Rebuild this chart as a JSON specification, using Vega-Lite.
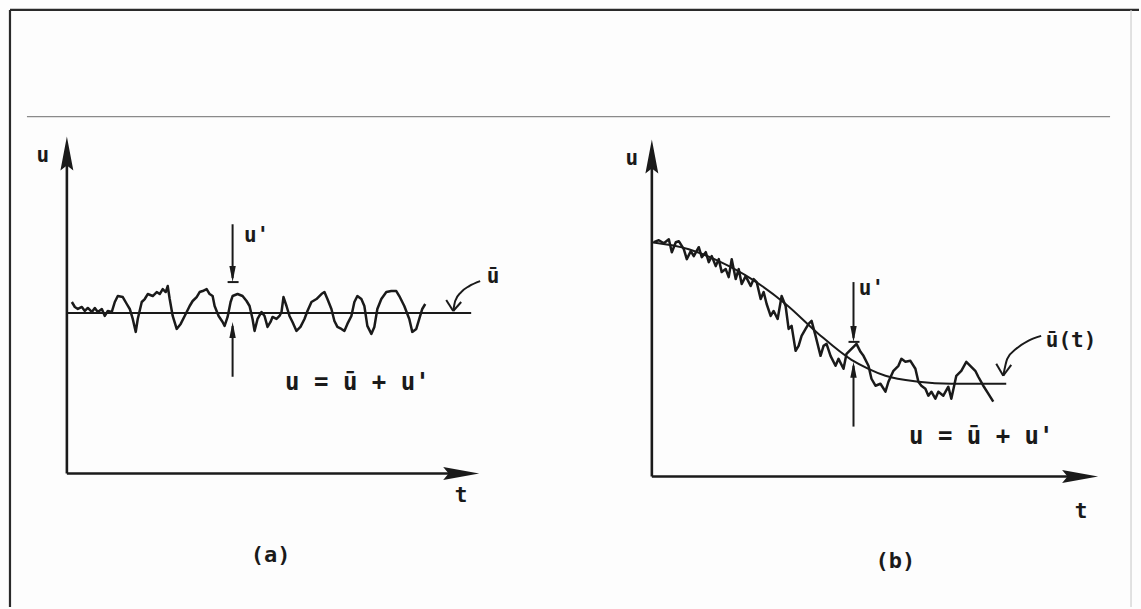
{
  "$schema": "https://vega.github.io/schema/vega-lite/v6.json",
  "autosize": {"type": "fit", "contains": "padding"},
  "width": 1141,
  "height": 609,
  "padding": 0,
  "background": "#fdfdfd",
  "config": {"view": {"stroke": null}},
  "datasets": {
    "frame": [
      {"x": 10, "u": 0, "x2": 10, "u2": 599},
      {"x": 10, "u": 599, "x2": 1141, "u2": 599}
    ],
    "sep": [
      {"x": 27, "u": 492, "x2": 1112, "u2": 492}
    ],
    "edge": [
      {"x": 1133, "u": 0, "x2": 1133, "u2": 599}
    ],
    "axes": [
      {"x": 67, "u": 134, "x2": 67, "u2": 458},
      {"x": 67, "u": 134, "x2": 464, "u2": 134},
      {"x": 653, "u": 131, "x2": 653, "u2": 455},
      {"x": 653, "u": 131, "x2": 1084, "u2": 131}
    ],
    "thin": [
      {"x": 67, "u": 295, "x2": 472, "u2": 295},
      {"x": 233, "u": 384, "x2": 233, "u2": 330},
      {"x": 228, "u": 326, "x2": 239, "u2": 326},
      {"x": 233, "u": 231, "x2": 233, "u2": 282},
      {"x": 855, "u": 326, "x2": 855, "u2": 270},
      {"x": 850, "u": 266, "x2": 861, "u2": 266},
      {"x": 855, "u": 181, "x2": 855, "u2": 242},
      {"x": 454, "u": 297, "x2": 447, "u2": 308},
      {"x": 454, "u": 297, "x2": 462, "u2": 306},
      {"x": 1005, "u": 232, "x2": 998, "u2": 244},
      {"x": 1005, "u": 232, "x2": 1013, "u2": 243}
    ],
    "curves": [
      {"id": "pa", "x": 481, "u": 327}, {"id": "pa", "x": 470, "u": 322}, {"id": "pa", "x": 462, "u": 316}, {"id": "pa", "x": 456, "u": 307}, {"id": "pa", "x": 454, "u": 297},
      {"id": "pb", "x": 1043, "u": 272}, {"id": "pb", "x": 1030, "u": 267}, {"id": "pb", "x": 1018, "u": 259}, {"id": "pb", "x": 1009, "u": 249}, {"id": "pb", "x": 1005, "u": 232},
      {"id": "mb", "x": 653, "u": 366}, {"id": "mb", "x": 690, "u": 359}, {"id": "mb", "x": 720, "u": 347}, {"id": "mb", "x": 753, "u": 329}, {"id": "mb", "x": 787, "u": 304}, {"id": "mb", "x": 820, "u": 274}, {"id": "mb", "x": 853, "u": 248}, {"id": "mb", "x": 870, "u": 239}, {"id": "mb", "x": 887, "u": 232}, {"id": "mb", "x": 920, "u": 226}, {"id": "mb", "x": 953, "u": 224}, {"id": "mb", "x": 1008, "u": 224}
    ],
    "signals": [
      {"id": "a", "x": 72, "u": 306}, {"id": "a", "x": 75, "u": 301}, {"id": "a", "x": 78, "u": 299}, {"id": "a", "x": 82, "u": 301}, {"id": "a", "x": 85, "u": 297}, {"id": "a", "x": 88, "u": 300}, {"id": "a", "x": 92, "u": 296}, {"id": "a", "x": 95, "u": 300}, {"id": "a", "x": 98, "u": 296}, {"id": "a", "x": 102, "u": 299}, {"id": "a", "x": 105, "u": 292}, {"id": "a", "x": 108, "u": 297}, {"id": "a", "x": 112, "u": 296}, {"id": "a", "x": 115, "u": 306}, {"id": "a", "x": 118, "u": 312}, {"id": "a", "x": 123, "u": 311}, {"id": "a", "x": 127, "u": 304}, {"id": "a", "x": 130, "u": 299}, {"id": "a", "x": 133, "u": 289}, {"id": "a", "x": 136, "u": 276}, {"id": "a", "x": 138, "u": 289}, {"id": "a", "x": 142, "u": 306}, {"id": "a", "x": 145, "u": 309}, {"id": "a", "x": 148, "u": 314}, {"id": "a", "x": 153, "u": 312}, {"id": "a", "x": 157, "u": 316}, {"id": "a", "x": 160, "u": 314}, {"id": "a", "x": 163, "u": 319}, {"id": "a", "x": 166, "u": 316}, {"id": "a", "x": 168, "u": 322}, {"id": "a", "x": 170, "u": 309}, {"id": "a", "x": 173, "u": 292}, {"id": "a", "x": 177, "u": 279}, {"id": "a", "x": 181, "u": 284}, {"id": "a", "x": 185, "u": 292}, {"id": "a", "x": 190, "u": 302}, {"id": "a", "x": 193, "u": 307}, {"id": "a", "x": 197, "u": 311}, {"id": "a", "x": 200, "u": 316}, {"id": "a", "x": 203, "u": 317}, {"id": "a", "x": 207, "u": 319}, {"id": "a", "x": 210, "u": 314}, {"id": "a", "x": 213, "u": 312}, {"id": "a", "x": 215, "u": 302}, {"id": "a", "x": 219, "u": 292}, {"id": "a", "x": 223, "u": 286}, {"id": "a", "x": 225, "u": 282}, {"id": "a", "x": 228, "u": 291}, {"id": "a", "x": 231, "u": 306}, {"id": "a", "x": 233, "u": 312}, {"id": "a", "x": 238, "u": 314}, {"id": "a", "x": 243, "u": 312}, {"id": "a", "x": 247, "u": 307}, {"id": "a", "x": 250, "u": 302}, {"id": "a", "x": 253, "u": 289}, {"id": "a", "x": 255, "u": 277}, {"id": "a", "x": 258, "u": 289}, {"id": "a", "x": 262, "u": 296}, {"id": "a", "x": 265, "u": 292}, {"id": "a", "x": 268, "u": 281}, {"id": "a", "x": 271, "u": 286}, {"id": "a", "x": 273, "u": 291}, {"id": "a", "x": 277, "u": 289}, {"id": "a", "x": 280, "u": 292}, {"id": "a", "x": 282, "u": 296}, {"id": "a", "x": 284, "u": 311}, {"id": "a", "x": 287, "u": 302}, {"id": "a", "x": 290, "u": 292}, {"id": "a", "x": 293, "u": 286}, {"id": "a", "x": 297, "u": 277}, {"id": "a", "x": 301, "u": 281}, {"id": "a", "x": 305, "u": 289}, {"id": "a", "x": 308, "u": 297}, {"id": "a", "x": 312, "u": 306}, {"id": "a", "x": 317, "u": 309}, {"id": "a", "x": 322, "u": 314}, {"id": "a", "x": 325, "u": 316}, {"id": "a", "x": 328, "u": 309}, {"id": "a", "x": 332, "u": 299}, {"id": "a", "x": 335, "u": 287}, {"id": "a", "x": 338, "u": 281}, {"id": "a", "x": 342, "u": 279}, {"id": "a", "x": 345, "u": 277}, {"id": "a", "x": 348, "u": 284}, {"id": "a", "x": 352, "u": 292}, {"id": "a", "x": 355, "u": 306}, {"id": "a", "x": 358, "u": 312}, {"id": "a", "x": 362, "u": 309}, {"id": "a", "x": 365, "u": 302}, {"id": "a", "x": 368, "u": 282}, {"id": "a", "x": 372, "u": 274}, {"id": "a", "x": 375, "u": 281}, {"id": "a", "x": 378, "u": 299}, {"id": "a", "x": 382, "u": 309}, {"id": "a", "x": 387, "u": 316}, {"id": "a", "x": 392, "u": 317}, {"id": "a", "x": 397, "u": 317}, {"id": "a", "x": 400, "u": 312}, {"id": "a", "x": 405, "u": 302}, {"id": "a", "x": 410, "u": 289}, {"id": "a", "x": 413, "u": 276}, {"id": "a", "x": 417, "u": 279}, {"id": "a", "x": 420, "u": 289}, {"id": "a", "x": 423, "u": 299}, {"id": "a", "x": 426, "u": 304},
      {"id": "b", "x": 655, "u": 366}, {"id": "b", "x": 660, "u": 368}, {"id": "b", "x": 665, "u": 365}, {"id": "b", "x": 670, "u": 369}, {"id": "b", "x": 673, "u": 356}, {"id": "b", "x": 677, "u": 366}, {"id": "b", "x": 680, "u": 367}, {"id": "b", "x": 685, "u": 359}, {"id": "b", "x": 688, "u": 349}, {"id": "b", "x": 692, "u": 357}, {"id": "b", "x": 695, "u": 352}, {"id": "b", "x": 700, "u": 361}, {"id": "b", "x": 703, "u": 351}, {"id": "b", "x": 707, "u": 356}, {"id": "b", "x": 710, "u": 346}, {"id": "b", "x": 713, "u": 352}, {"id": "b", "x": 717, "u": 342}, {"id": "b", "x": 720, "u": 349}, {"id": "b", "x": 723, "u": 336}, {"id": "b", "x": 727, "u": 339}, {"id": "b", "x": 730, "u": 331}, {"id": "b", "x": 733, "u": 349}, {"id": "b", "x": 737, "u": 329}, {"id": "b", "x": 740, "u": 339}, {"id": "b", "x": 743, "u": 324}, {"id": "b", "x": 747, "u": 332}, {"id": "b", "x": 752, "u": 322}, {"id": "b", "x": 755, "u": 329}, {"id": "b", "x": 758, "u": 326}, {"id": "b", "x": 762, "u": 309}, {"id": "b", "x": 765, "u": 316}, {"id": "b", "x": 768, "u": 304}, {"id": "b", "x": 772, "u": 292}, {"id": "b", "x": 775, "u": 297}, {"id": "b", "x": 779, "u": 289}, {"id": "b", "x": 783, "u": 312}, {"id": "b", "x": 787, "u": 302}, {"id": "b", "x": 790, "u": 279}, {"id": "b", "x": 793, "u": 282}, {"id": "b", "x": 797, "u": 257}, {"id": "b", "x": 800, "u": 262}, {"id": "b", "x": 803, "u": 272}, {"id": "b", "x": 807, "u": 279}, {"id": "b", "x": 810, "u": 284}, {"id": "b", "x": 813, "u": 287}, {"id": "b", "x": 817, "u": 272}, {"id": "b", "x": 822, "u": 252}, {"id": "b", "x": 825, "u": 262}, {"id": "b", "x": 828, "u": 264}, {"id": "b", "x": 832, "u": 252}, {"id": "b", "x": 837, "u": 242}, {"id": "b", "x": 840, "u": 249}, {"id": "b", "x": 845, "u": 239}, {"id": "b", "x": 848, "u": 254}, {"id": "b", "x": 853, "u": 259}, {"id": "b", "x": 858, "u": 264}, {"id": "b", "x": 862, "u": 256}, {"id": "b", "x": 865, "u": 252}, {"id": "b", "x": 870, "u": 242}, {"id": "b", "x": 873, "u": 229}, {"id": "b", "x": 877, "u": 222}, {"id": "b", "x": 882, "u": 224}, {"id": "b", "x": 887, "u": 216}, {"id": "b", "x": 890, "u": 226}, {"id": "b", "x": 895, "u": 237}, {"id": "b", "x": 900, "u": 242}, {"id": "b", "x": 903, "u": 249}, {"id": "b", "x": 907, "u": 246}, {"id": "b", "x": 912, "u": 247}, {"id": "b", "x": 917, "u": 239}, {"id": "b", "x": 920, "u": 226}, {"id": "b", "x": 923, "u": 222}, {"id": "b", "x": 927, "u": 219}, {"id": "b", "x": 930, "u": 212}, {"id": "b", "x": 933, "u": 216}, {"id": "b", "x": 937, "u": 209}, {"id": "b", "x": 940, "u": 216}, {"id": "b", "x": 945, "u": 212}, {"id": "b", "x": 950, "u": 221}, {"id": "b", "x": 953, "u": 209}, {"id": "b", "x": 958, "u": 232}, {"id": "b", "x": 963, "u": 237}, {"id": "b", "x": 968, "u": 246}, {"id": "b", "x": 972, "u": 242}, {"id": "b", "x": 977, "u": 237}, {"id": "b", "x": 980, "u": 231}, {"id": "b", "x": 985, "u": 222}, {"id": "b", "x": 990, "u": 214}, {"id": "b", "x": 995, "u": 206}
    ],
    "headsUp": [{"x": 67, "u": 455}, {"x": 653, "u": 452}],
    "headsRight": [{"x": 462, "u": 134}, {"x": 1082, "u": 131}],
    "smallDown": [{"x": 233, "u": 334}, {"x": 855, "u": 274}],
    "smallUp": [{"x": 233, "u": 278}, {"x": 855, "u": 238}],
    "formula": [{"x": 358, "u": 225, "label": "u = ū + u'"}, {"x": 983, "u": 171, "label": "u = ū + u'"}],
    "labels": [
      {"x": 43, "u": 452, "label": "u"},
      {"x": 633, "u": 449, "label": "u"},
      {"x": 462, "u": 111, "label": "t"},
      {"x": 1083, "u": 95, "label": "t"},
      {"x": 257, "u": 372, "label": "u'"},
      {"x": 873, "u": 319, "label": "u'"},
      {"x": 494, "u": 331, "label": "ū"},
      {"x": 1073, "u": 267, "label": "ū(t)"}
    ],
    "captions": [{"x": 271, "u": 52, "label": "(a)"}, {"x": 897, "u": 46, "label": "(b)"}]
  },
  "encoding": {
    "x": {"field": "x", "type": "quantitative", "scale": {"domain": [0, 1141], "nice": false, "zero": false}, "axis": null},
    "y": {"field": "u", "type": "quantitative", "scale": {"domain": [0, 609], "nice": false, "zero": false}, "axis": null}
  },
  "layer": [
    {"data": {"name": "frame"}, "mark": {"type": "rule", "color": "#2a2a2a", "strokeWidth": 2.2}, "encoding": {"x2": {"field": "x2"}, "y2": {"field": "u2"}}},
    {"data": {"name": "sep"}, "mark": {"type": "rule", "color": "#8a8a8a", "strokeWidth": 1.4}, "encoding": {"x2": {"field": "x2"}, "y2": {"field": "u2"}}},
    {"data": {"name": "edge"}, "mark": {"type": "rule", "color": "#cfcfcf", "strokeWidth": 1.2}, "encoding": {"x2": {"field": "x2"}, "y2": {"field": "u2"}}},
    {"data": {"name": "axes"}, "mark": {"type": "rule", "color": "#1a1a1a", "strokeWidth": 2.6}, "encoding": {"x2": {"field": "x2"}, "y2": {"field": "u2"}}},
    {"data": {"name": "thin"}, "mark": {"type": "rule", "color": "#1a1a1a", "strokeWidth": 2}, "encoding": {"x2": {"field": "x2"}, "y2": {"field": "u2"}}},
    {"data": {"name": "curves"}, "mark": {"type": "line", "color": "#1a1a1a", "strokeWidth": 2, "interpolate": "monotone"}, "encoding": {"detail": {"field": "id"}}},
    {"data": {"name": "signals"}, "mark": {"type": "line", "color": "#1a1a1a", "strokeWidth": 2.5, "strokeJoin": "round"}, "encoding": {"detail": {"field": "id"}}},
    {"data": {"name": "headsUp"}, "mark": {"type": "point", "filled": true, "color": "#1a1a1a", "opacity": 1, "size": 1156, "shape": "M0,-1L0.38,1L0,0.7L-0.38,1Z", "strokeWidth": 0}},
    {"data": {"name": "headsRight"}, "mark": {"type": "point", "filled": true, "color": "#1a1a1a", "opacity": 1, "size": 1296, "shape": "M1,0L-1,-0.36L-0.7,0L-1,0.36Z", "strokeWidth": 0}},
    {"data": {"name": "smallDown"}, "mark": {"type": "point", "filled": true, "color": "#1a1a1a", "opacity": 1, "size": 256, "shape": "M0,1L-0.4,-1L0.4,-1Z", "strokeWidth": 0}},
    {"data": {"name": "smallUp"}, "mark": {"type": "point", "filled": true, "color": "#1a1a1a", "opacity": 1, "size": 256, "shape": "M0,-1L0.4,1L-0.4,1Z", "strokeWidth": 0}},
    {"data": {"name": "formula"}, "mark": {"type": "text", "font": "DejaVu Sans Mono", "fontWeight": "bold", "fontSize": 24, "align": "center", "baseline": "middle", "color": "#1a1a1a"}, "encoding": {"text": {"field": "label"}}},
    {"data": {"name": "labels"}, "mark": {"type": "text", "font": "DejaVu Sans Mono", "fontWeight": "bold", "fontSize": 21, "align": "center", "baseline": "middle", "color": "#1a1a1a"}, "encoding": {"text": {"field": "label"}}},
    {"data": {"name": "captions"}, "mark": {"type": "text", "font": "DejaVu Sans Mono", "fontWeight": "bold", "fontSize": 22, "align": "center", "baseline": "middle", "color": "#1a1a1a"}, "encoding": {"text": {"field": "label"}}}
  ]
}
